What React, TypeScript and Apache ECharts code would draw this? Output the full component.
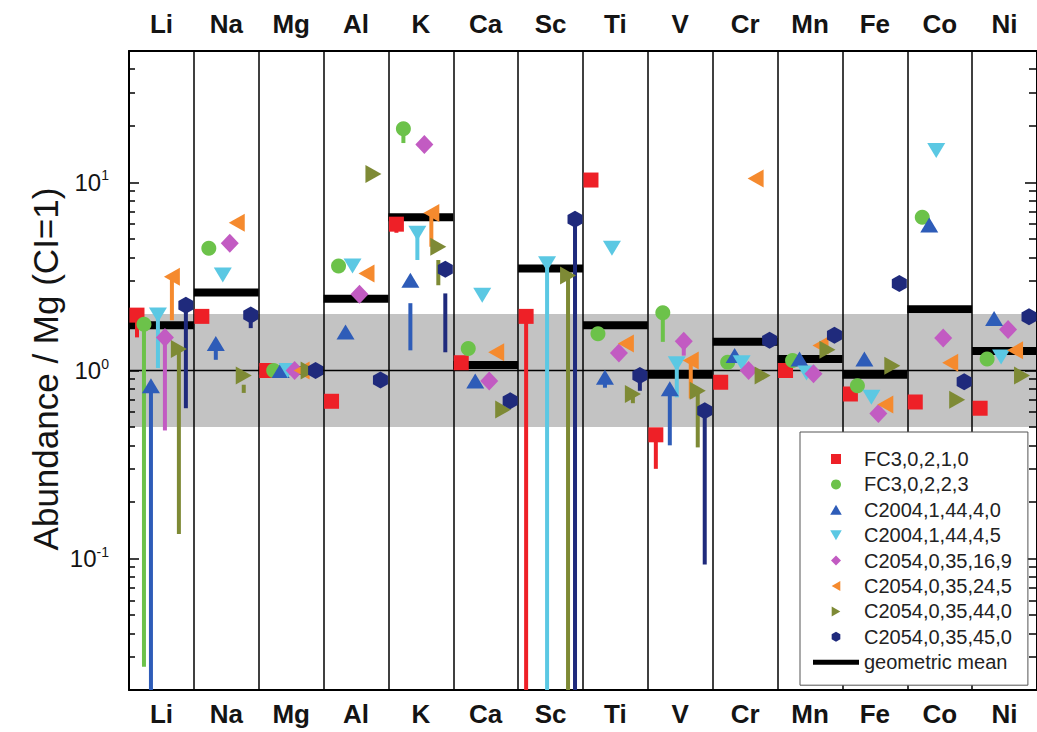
import React, { useEffect, useRef } from 'react';
import * as echarts from 'echarts';

// ---------------- data ----------------
const CATEGORIES = ['Li', 'Na', 'Mg', 'Al', 'K', 'Ca', 'Sc', 'Ti', 'V', 'Cr', 'Mn', 'Fe', 'Co', 'Ni'];

const SERIES_NAMES = [
  'FC3,0,2,1,0',
  'FC3,0,2,2,3',
  'C2004,1,44,4,0',
  'C2004,1,44,4,5',
  'C2054,0,35,16,9',
  'C2054,0,35,24,5',
  'C2054,0,35,44,0',
  'C2054,0,35,45,0',
];

//                  Li    Na    Mg   Al     K     Ca    Sc    Ti    V      Cr     Mn    Fe    Co    Ni
const FC3_0_2_1_0 = [1.97, 1.94, 1.0, 0.686, 6.0, 1.1, 1.94, 10.3, 0.455, 0.866, 1.0, 0.75, 0.68, 0.63];
const FC3_0_2_2_3 = [1.76, 4.47, 1.0, 3.6, 19.3, 1.31, null, 1.57, 2.03, 1.107, 1.13, 0.83, 6.53, 1.15];
const C2004_1_44_4_0 = [0.83, 1.39, 1.0, 1.6, 3.02, 0.88, null, 0.92, 0.8, 1.2, 1.15, 1.15, 5.94, 1.89];
const C2004_1_44_4_5 = [1.97, 3.22, 1.0, 3.6, 5.37, 2.51, 3.7, 4.47, 1.085, 1.1, 0.97, 0.72, 14.8, 1.18];
const C2054_0_35_16_9 = [1.5, 4.75, 1.0, 2.54, 15.9, 0.88, null, 1.24, 1.43, 1.0, 0.96, 0.59, 1.49, 1.65];
const C2054_0_35_24_5 = [3.15, 6.1, 1.0, 3.28, 6.87, 1.25, null, 1.39, 1.13, 10.5, 1.36, 0.66, 1.1, 1.28];
const C2054_0_35_44_0 = [1.3, 0.94, 1.0, 11.1, 4.55, 0.62, 3.2, 0.75, 0.78, 0.94, 1.29, 1.06, 0.7, 0.94];
const C2054_0_35_45_0 = [2.22, 1.97, 1.0, 0.89, 3.45, 0.69, 6.37, 0.94, 0.61, 1.45, 1.54, 2.9, 0.87, 1.93];

const GEOMETRIC_MEAN = [1.74, 2.6, 1.0, 2.41, 6.53, 1.07, 3.49, 1.74, 0.95, 1.42, 1.15, 0.95, 2.12, 1.27];

// vertical range bars: [category index, low, high]
const FC3_0_2_1_0_BARS = [[0, 1.5, 1.97], [4, 5.4, 6.0], [6, 0.02, 1.94], [8, 0.3, 0.455]];
const FC3_0_2_2_3_BARS = [[0, 0.0266, 1.76], [4, 16.2, 19.3], [8, 1.42, 2.03]];
const C2004_1_44_4_0_BARS = [[0, 0.02, 0.83], [1, 1.14, 1.39], [4, 1.28, 2.28], [7, 0.81, 0.92], [8, 0.4, 0.8]];
const C2004_1_44_4_5_BARS = [[0, 1.03, 1.97], [4, 3.87, 5.37], [6, 0.02, 3.7], [8, 0.72, 1.085]];
const C2054_0_35_16_9_BARS = [[0, 0.48, 1.5], [8, 1.2, 1.43]];
const C2054_0_35_24_5_BARS = [[0, 1.85, 3.15], [4, 4.55, 6.87], [8, 0.71, 1.13]];
const C2054_0_35_44_0_BARS = [[0, 0.135, 1.3], [1, 0.76, 0.84], [4, 2.84, 3.87], [6, 0.02, 3.2], [7, 0.67, 0.75], [8, 0.39, 0.78]];
const C2054_0_35_45_0_BARS = [[0, 0.63, 2.22], [1, 1.68, 1.97], [4, 1.25, 2.57], [6, 0.02, 6.37], [7, 0.78, 0.94], [8, 0.093, 0.61]];

const SERIES_VALUES = [FC3_0_2_1_0, FC3_0_2_2_3, C2004_1_44_4_0, C2004_1_44_4_5, C2054_0_35_16_9, C2054_0_35_24_5, C2054_0_35_44_0, C2054_0_35_45_0];
const SERIES_BARS = [FC3_0_2_1_0_BARS, FC3_0_2_2_3_BARS, C2004_1_44_4_0_BARS, C2004_1_44_4_5_BARS, C2054_0_35_16_9_BARS, C2054_0_35_24_5_BARS, C2054_0_35_44_0_BARS, C2054_0_35_45_0_BARS];

const BAND = [0.5, 2];
const REFERENCE_LEVEL = 1;
const Y_MIN = 0.02;
const Y_MAX = 50;
const MAJOR_TICKS = [0.1, 1, 10];
const MINOR_TICKS = [0.03, 0.04, 0.05, 0.06, 0.07, 0.08, 0.09, 0.2, 0.3, 0.4, 0.5, 0.6, 0.7, 0.8, 0.9, 2, 3, 4, 5, 6, 7, 8, 9, 20, 30, 40];

// ---------------- styles ----------------
const COLORS = ['#ee2027', '#6cc24a', '#2e5cb8', '#5bc8e3', '#c25bc2', '#f58a2e', '#7e8a35', '#1f2a7c'];
const SYMBOLS = [
  'path://M0,0H10V10H0Z',
  'circle',
  'path://M5,0L10,8.66L0,8.66Z',
  'path://M0,0L10,0L5,8.66Z',
  'path://M5,0L10,5L5,10L0,5Z',
  'path://M0,5L8.66,0L8.66,10Z',
  'path://M0,0L8.66,5L0,10Z',
  'path://M4.33,0L8.66,2.5L8.66,7.5L4.33,10L0,7.5L0,2.5Z',
];
const SYMBOL_SIZES: any[] = [15, 15, [18, 15], [18, 15], [18, 19], [16, 18], [16, 18], [15, 17]];
const OFFSET_STEP = 0.1077;
const FONT = 'Liberation Sans, Arial, Helvetica, sans-serif';
const TEXT = '#141414';

function buildOption() {
  const series: any[] = [];

  // gray band (below axis split lines)
  series.push({
    type: 'custom',
    name: 'band',
    xAxisIndex: 2,
    yAxisIndex: 0,
    z: -1,
    silent: true,
    data: [[6.5, BAND[0], BAND[1]]],
    encode: { x: 0, y: [1, 2] },
    renderItem: (params: any, api: any) => {
      const cs = params.coordSys;
      const yTop = api.coord([0, api.value(2)])[1];
      const yBot = api.coord([0, api.value(1)])[1];
      return { type: 'rect', shape: { x: cs.x, y: yTop, width: cs.width, height: yBot - yTop }, style: { fill: '#c3c3c3' } };
    },
  });

  // reference line at 1
  series.push({
    type: 'custom',
    name: 'ref',
    xAxisIndex: 2,
    yAxisIndex: 0,
    z: 1,
    silent: true,
    data: [[6.5, REFERENCE_LEVEL]],
    encode: { x: 0, y: 1 },
    renderItem: (params: any, api: any) => {
      const cs = params.coordSys;
      const y = api.coord([0, api.value(1)])[1];
      return { type: 'line', shape: { x1: cs.x, y1: y, x2: cs.x + cs.width, y2: y }, style: { stroke: '#000', lineWidth: 1.5 } };
    },
  });

  // geometric mean bars
  series.push({
    type: 'custom',
    name: 'geometric mean',
    xAxisIndex: 2,
    yAxisIndex: 0,
    z: 2,
    silent: true,
    itemStyle: { color: '#000' },
    data: GEOMETRIC_MEAN.map((v, j) => [j, v]),
    encode: { x: 0, y: 1 },
    renderItem: (params: any, api: any) => {
      const j = api.value(0);
      const v = api.value(1);
      const p1 = api.coord([j - 0.5, v]);
      const p2 = api.coord([j + 0.5, v]);
      return { type: 'line', shape: { x1: p1[0], y1: p1[1], x2: p2[0], y2: p2[1] }, style: { stroke: '#000', lineWidth: 8, lineCap: 'butt' } };
    },
  });

  // range bars
  SERIES_BARS.forEach((bars, i) => {
    series.push({
      type: 'custom',
      name: SERIES_NAMES[i] + ' range',
      xAxisIndex: 2,
      yAxisIndex: 0,
      z: 3,
      silent: true,
      data: bars.map((b) => [b[0] + (i - 3.5) * OFFSET_STEP, b[1], b[2]]),
      encode: { x: 0, y: [1, 2] },
      renderItem: (params: any, api: any) => {
        const x = api.value(0);
        const p1 = api.coord([x, api.value(1)]);
        const p2 = api.coord([x, api.value(2)]);
        return { type: 'line', shape: { x1: p1[0], y1: p1[1], x2: p2[0], y2: p2[1] }, style: { stroke: COLORS[i], lineWidth: 4, lineCap: 'butt' } };
      },
    });
  });

  // markers
  SERIES_VALUES.forEach((vals, i) => {
    const data: any[] = [];
    vals.forEach((v, j) => {
      if (v != null) data.push([j + (i - 3.5) * OFFSET_STEP, v]);
    });
    series.push({
      type: 'scatter',
      name: SERIES_NAMES[i],
      xAxisIndex: 2,
      yAxisIndex: 0,
      z: 4,
      symbol: SYMBOLS[i],
      symbolSize: SYMBOL_SIZES[i],
      itemStyle: { color: COLORS[i], opacity: 1 },
      data,
    });
  });

  const catAxisBase = {
    type: 'category',
    data: CATEGORIES,
    boundaryGap: true,
    axisTick: { show: false },
  };
  const catLabel = { interval: 0, fontSize: 26, fontWeight: 'bold', color: TEXT, fontFamily: FONT };

  const richLabel = {
    b: { fontSize: 24, fontFamily: FONT, color: TEXT, lineHeight: 28 },
    s: { fontSize: 14, fontFamily: FONT, color: TEXT, lineHeight: 14, verticalAlign: 'top' },
  };
  const expFormatter = (v: number) => '{b|10}{s|' + Math.round(Math.log10(v)) + '}';

  const logBase = { type: 'log', logBase: 10, min: Y_MIN, max: Y_MAX, splitLine: { show: false } };
  const noLine = { show: false, onZero: false };
  const frameLine = { show: true, onZero: false, lineStyle: { color: '#000', width: 2 } };

  return {
    animation: false,
    backgroundColor: '#ffffff',
    grid: { left: 129, right: -5, top: 51, bottom: 42, containLabel: false },
    xAxis: [
      {
        ...catAxisBase,
        position: 'bottom',
        axisLine: frameLine,
        axisLabel: { ...catLabel, margin: 11 },
        splitLine: { show: true, interval: 0, lineStyle: { color: '#000', width: 1.5 } },
      },
      {
        ...catAxisBase,
        position: 'top',
        axisLine: frameLine,
        axisLabel: { ...catLabel, margin: 14 },
        splitLine: { show: false },
      },
      { type: 'value', min: -0.5, max: 13.5, show: false },
    ],
    yAxis: [
      {
        ...logBase,
        position: 'left',
        axisLine: frameLine,
        axisTick: { show: true, inside: true, length: 10, customValues: MAJOR_TICKS, lineStyle: { color: '#000', width: 1.5 } },
        axisLabel: { show: true, customValues: MAJOR_TICKS, margin: 20, formatter: expFormatter, rich: richLabel },
      },
      {
        ...logBase,
        position: 'left',
        axisLine: noLine,
        axisTick: { show: true, inside: true, length: 6, customValues: MINOR_TICKS, lineStyle: { color: '#000', width: 1.5 } },
        axisLabel: { show: false },
      },
      {
        ...logBase,
        position: 'right',
        axisLine: frameLine,
        axisTick: { show: true, inside: true, length: 12, customValues: MAJOR_TICKS, lineStyle: { color: '#000', width: 1.5 } },
        axisLabel: { show: false },
      },
      {
        ...logBase,
        position: 'right',
        axisLine: noLine,
        axisTick: { show: true, inside: true, length: 8, customValues: MINOR_TICKS, lineStyle: { color: '#000', width: 1.5 } },
        axisLabel: { show: false },
      },
    ],
    legend: {
      orient: 'vertical',
      left: 800,
      top: 432,
      itemWidth: 46,
      itemHeight: 10,
      itemGap: 5.4,
      padding: [17, 16, 13, 13],
      backgroundColor: '#ffffff',
      borderColor: '#555555',
      borderWidth: 1,
      borderRadius: 0,
      selectedMode: false,
      z: 10,
      textStyle: { fontSize: 20, color: '#222222', fontFamily: FONT },
      data: [
        ...SERIES_NAMES.map((n, i) => ({ name: n, icon: SYMBOLS[i] })),
        { name: 'geometric mean', icon: 'path://M0,0H46V5H0Z', itemStyle: { color: '#000' } },
      ],
    },
    graphic: [
      {
        type: 'text',
        x: 45,
        y: 369,
        rotation: Math.PI / 2,
        silent: true,
        style: {
          text: 'Abundance / Mg (CI=1)',
          fontSize: 35,
          fontFamily: FONT,
          fill: TEXT,
          textAlign: 'center',
          textVerticalAlign: 'middle',
        },
      },
    ],
    series,
  };
}

export default function App() {
  const ref = useRef<HTMLDivElement>(null);
  useEffect(() => {
    if (!ref.current) return;
    const chart = echarts.init(ref.current, null, { renderer: 'svg' });
    chart.setOption(buildOption() as any);
    return () => {
      chart.dispose();
    };
  }, []);
  return (
    <div style={{ position: 'fixed', left: 0, top: 0, width: 1037, height: 732, overflow: 'hidden', background: '#fff' }}>
      <div ref={ref} style={{ width: 1037, height: 732 }} />
    </div>
  );
}
